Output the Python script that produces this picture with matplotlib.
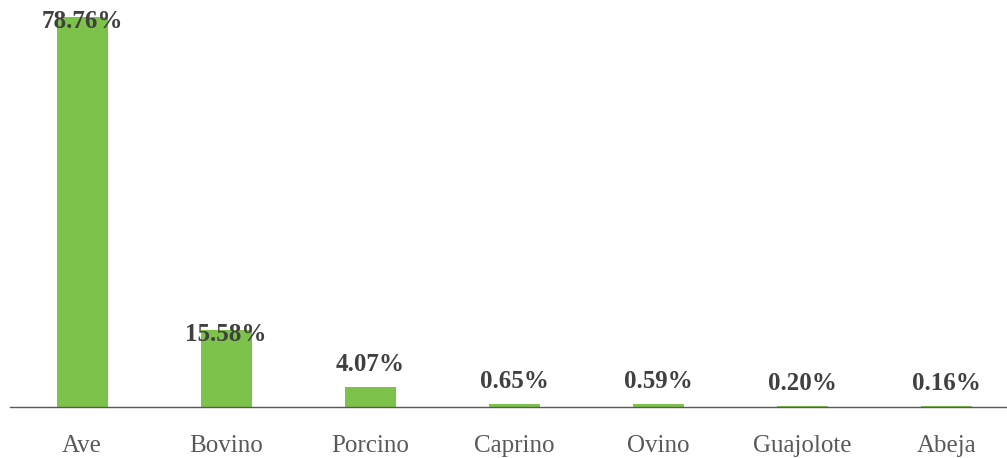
import matplotlib
matplotlib.use("Agg")
import matplotlib.pyplot as plt

categories = ["Ave", "Bovino", "Porcino", "Caprino", "Ovino", "Guajolote", "Abeja"]
values = [78.76, 15.58, 4.07, 0.65, 0.59, 0.20, 0.16]
labels = ["78.76%", "15.58%", "4.07%", "0.65%", "0.59%", "0.20%", "0.16%"]

fig = plt.figure(figsize=(10.07, 4.58), dpi=100)
ax = fig.add_axes([10/1007, 1 - 407/458, 1 - 10/1007, (407 - 11)/458])
x = list(range(len(categories)))
ax.bar(x, values, width=0.354, color="#7DC24B", zorder=2)
ax.set_xlim(-0.5, 6.42)
ax.set_ylim(0, 80)
for s in ["top", "right", "left"]:
    ax.spines[s].set_visible(False)
ax.spines["bottom"].set_color("#595959")
ax.spines["bottom"].set_linewidth(1.0)
ax.set_yticks([])
ax.set_xticks(x)
ax.set_xticklabels(categories, family="Liberation Serif", fontsize=18, color="#595959")
ax.tick_params(axis="x", length=0, pad=20)

for xi, v, lab in zip(x, values, labels):
    if v > 10:
        ax.annotate(lab, (xi, v), xytext=(0, -3), textcoords="offset points",
                    ha="center", va="center", family="Liberation Serif",
                    fontsize=18, fontweight="bold", color="#404040", zorder=3)
    else:
        ax.annotate(lab, (xi, v), xytext=(0, 8), textcoords="offset points",
                    ha="center", va="bottom", family="Liberation Serif",
                    fontsize=18, fontweight="bold", color="#404040", zorder=3)

fig.savefig("out.png", dpi=100)
